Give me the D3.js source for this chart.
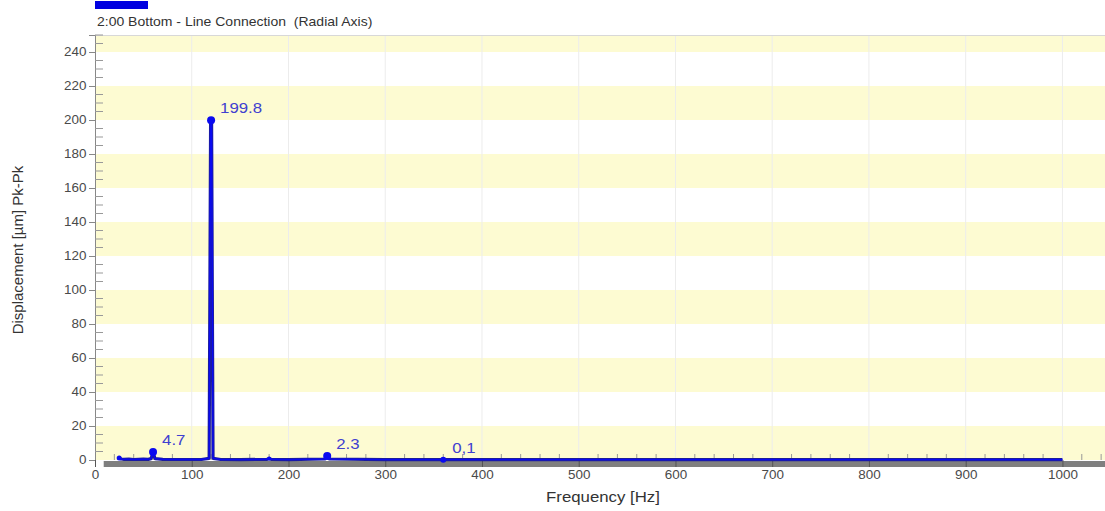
<!DOCTYPE html>
<html><head><meta charset="utf-8">
<script src="https://cdn.jsdelivr.net/npm/d3@7"></script>
<style>body{margin:0;background:#fff;}svg{display:block;font-family:"Liberation Sans",Arial,sans-serif;}</style>
</head><body>
<svg id="c" width="1105" height="511"></svg>
<script>
const seriesName = "2:00 Bottom - Line Connection  (Radial Axis)";
const freqs = [25, 27, 30, 35, 40, 45, 50, 55, 58, 60, 62, 70, 80, 90, 100, 110, 118, 119.5, 120, 120.5, 122, 130, 150, 178, 180, 182, 200, 238, 240, 242, 300, 358, 360, 362, 400, 500, 600, 700, 800, 900, 1000];
const amps  = [1.2, 0.6, 0.4, 0.5, 0.3, 0.4, 0.5, 0.4, 0.8, 4.7, 0.8, 0.4, 0.3, 0.3, 0.3, 0.3, 1.0, 199.8, 199.8, 199.8, 1.0, 0.3, 0.2, 0.4, 0.9, 0.4, 0.2, 0.6, 2.3, 0.6, 0.2, 0.2, 0.1, 0.2, 0.2, 0.2, 0.2, 0.2, 0.2, 0.2, 0.2];
const markerFreqs = [25, 60, 120, 180, 240, 360];
const markerAmps  = [1.2, 4.7, 199.8, 0.9, 2.3, 0.1];
const markerSizes = [2.5, 4, 4, 2, 4, 3];
const labelFreqs  = [60, 120, 240, 360];
const labelAmps   = [4.7, 199.8, 2.3, 0.1];
const labelTexts  = ["4.7", "199.8", "2.3", "0,1"];
const yTicks = [0, 20, 40, 60, 80, 100, 120, 140, 160, 180, 200, 220, 240];
const xTicks = [0, 100, 200, 300, 400, 500, 600, 700, 800, 900, 1000];
const bandStarts = [0, 40, 80, 120, 160, 200, 240];

const svg = d3.select("#c");
const L = 95, R = 1105, T = 35, B = 460;
const SX = 1.12;
const x = d3.scaleLinear().domain([0, 1044]).range([L, R]);
const y = d3.scaleLinear().domain([0, 250]).range([B, T]);
const blue = "#0a0af0";

function stext(g, px, py, anchor) {
  return g.append("text").attr("transform", `translate(${px},${py}) scale(${SX},1)`).attr("text-anchor", anchor || "start");
}

// bands
svg.append("g").selectAll("rect").data(bandStarts).join("rect")
  .attr("x", L).attr("width", R - L)
  .attr("y", d => y(Math.min(d + 20, 250)))
  .attr("height", d => y(d) - y(Math.min(d + 20, 250)))
  .attr("fill", "#fdfbd2");

// vertical grid
svg.append("g").selectAll("line").data(xTicks.slice(1)).join("line")
  .attr("x1", d => x(d)).attr("x2", d => x(d)).attr("y1", T).attr("y2", B)
  .attr("stroke", "#ececec").attr("stroke-width", 1);

// top border
svg.append("line").attr("x1", L).attr("x2", R).attr("y1", T + 0.5).attr("y2", T + 0.5).attr("stroke", "#d8d8d8");

// y axis
const yAxis = svg.append("g").attr("transform", `translate(${L},0)`)
  .call(d3.axisLeft(y).tickValues(yTicks).tickSize(6).tickPadding(3));
yAxis.select(".domain").attr("stroke", "#888");
yAxis.selectAll(".tick line").attr("stroke", "#888");
yAxis.selectAll("text").attr("font-size", 12).attr("fill", "#4a4a4a").attr("font-family", "Liberation Sans, Arial, sans-serif")
  .attr("x", -8.5 / SX).attr("transform", `scale(${SX},1)`);
// y minor ticks inside
const yMinor = d3.range(0, 251, 5).filter(v => v % 20 !== 0);
svg.append("g").selectAll("line").data(yMinor).join("line")
  .attr("x1", L).attr("x2", L + 8).attr("y1", d => y(d)).attr("y2", d => y(d))
  .attr("stroke", "#999");

// x minor ticks (upward)
const xMinor = d3.range(20, 1044, 20).filter(v => v % 100 !== 0);
svg.append("g").selectAll("line").data(xMinor).join("line")
  .attr("x1", d => x(d)).attr("x2", d => x(d)).attr("y1", B - 6).attr("y2", B)
  .attr("stroke", "#999");

// gray base bar
svg.append("rect").attr("x", x(9)).attr("width", R - x(9)).attr("y", B + 1).attr("height", 6).attr("fill", "#7f7f7f");

// x axis
const xAxis = svg.append("g").attr("transform", `translate(0,${B})`)
  .call(d3.axisBottom(x).tickValues(xTicks).tickFormat(d3.format("d")).tickSize(7).tickPadding(3));
xAxis.select(".domain").remove();
xAxis.selectAll(".tick line").attr("stroke", "#555");
xAxis.selectAll("text").attr("font-size", 12).attr("fill", "#4a4a4a").attr("font-family", "Liberation Sans, Arial, sans-serif")
  .attr("transform", `scale(${SX},1)`);

// spectrum line
const line = d3.line().x(d => x(d[0])).y(d => y(d[1]));
const pts = freqs.map((f, i) => [f, amps[i]]);
svg.append("path").datum(pts).attr("d", line)
  .attr("fill", "none").attr("stroke", "#1c1c9c").attr("stroke-width", 3.2).attr("stroke-linejoin", "round");
svg.append("path").datum(pts).attr("d", line)
  .attr("fill", "none").attr("stroke", blue).attr("stroke-width", 1.4).attr("stroke-linejoin", "round");

// markers
svg.append("g").selectAll("circle").data(markerFreqs).join("circle")
  .attr("cx", d => x(d)).attr("cy", (d, i) => y(markerAmps[i])).attr("r", (d, i) => markerSizes[i])
  .attr("fill", blue);

// labels
const lg = svg.append("g");
labelFreqs.forEach((f, i) => {
  stext(lg, x(f) + 9, y(labelAmps[i]) - 7).attr("font-size", 15).attr("fill", "#4040d0").text(labelTexts[i]);
});

// legend
svg.append("rect").attr("x", 95).attr("y", 1).attr("width", 53).attr("height", 8).attr("fill", "#0000e0");
stext(svg, 97, 26).attr("font-size", 12.5).attr("fill", "#333").attr("xml:space", "preserve").style("white-space", "pre").text(seriesName);

// axis titles
stext(svg, 603, 502, "middle").attr("font-size", 15).attr("fill", "#333").text("Frequency [Hz]");
svg.append("text").attr("transform", "translate(23,250) rotate(-90)").attr("text-anchor", "middle").attr("font-size", 15).attr("fill", "#333").text("Displacement [µm] Pk-Pk");
</script>
</body></html>
